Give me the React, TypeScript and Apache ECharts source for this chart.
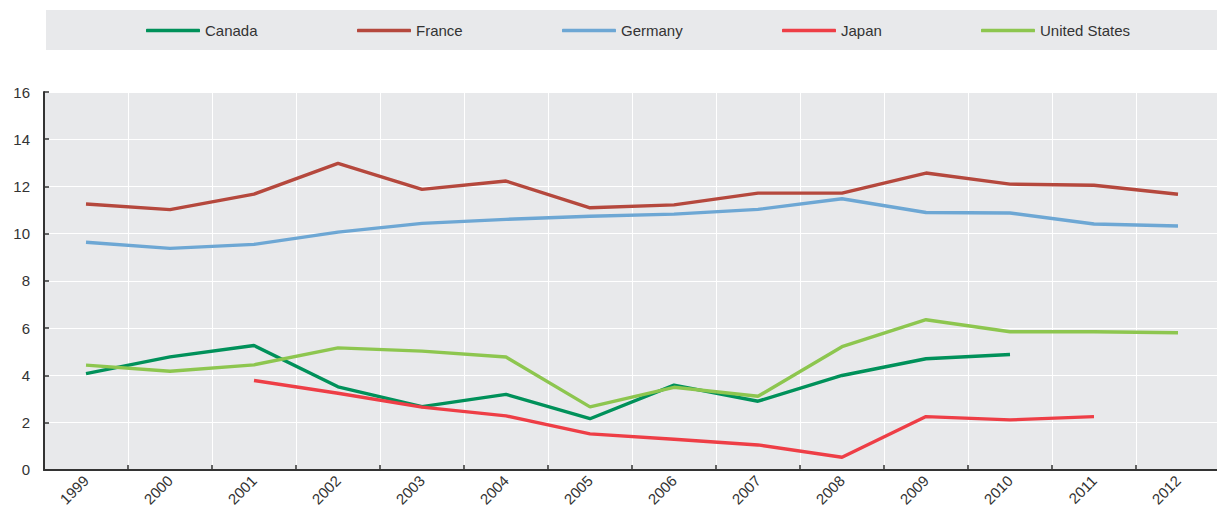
import React, { useEffect, useRef } from "react";
import * as echarts from "echarts";

const years = ["1999", "2000", "2001", "2002", "2003", "2004", "2005", "2006", "2007", "2008", "2009", "2010", "2011", "2012"];
const canada = [4.08, 4.79, 5.27, 3.52, 2.68, 3.2, 2.17, 3.59, 2.91, 4.0, 4.71, 4.89, null, null];
const france = [11.26, 11.02, 11.68, 12.98, 11.88, 12.23, 11.1, 11.22, 11.72, 11.72, 12.57, 12.1, 12.05, 11.67];
const germany = [9.64, 9.38, 9.55, 10.07, 10.44, 10.61, 10.74, 10.83, 11.03, 11.48, 10.9, 10.88, 10.41, 10.33];
const japan = [null, null, 3.79, 3.25, 2.66, 2.29, 1.53, 1.3, 1.06, 0.54, 2.26, 2.12, 2.26, null];
const unitedStates = [4.44, 4.18, 4.45, 5.17, 5.03, 4.78, 2.67, 3.5, 3.12, 5.22, 6.36, 5.85, 5.85, 5.81];

const seriesNames = ["Canada", "France", "Germany", "Japan", "United States"];
const seriesData = [canada, france, germany, japan, unitedStates];
const colors = ["#00915a", "#b5483d", "#6da7d4", "#ee3e46", "#8dc64f"];
const legendLefts = [146, 357, 562, 782, 981];

const FONT = "'Liberation Sans Narrow', 'Arial Narrow', 'Liberation Sans', Arial, sans-serif";

export default function App() {
  const ref = useRef<HTMLDivElement>(null);
  useEffect(() => {
    if (!ref.current) return;
    const chart = echarts.init(ref.current, undefined, { renderer: "svg" });
    chart.setOption({
      animation: false,
      backgroundColor: "#ffffff",
      textStyle: { fontFamily: FONT },
      graphic: [
        {
          type: "rect",
          z: -10,
          shape: { x: 46, y: 10, width: 1180, height: 40 },
          style: { fill: "#e8e9eb" },
          silent: true,
        },
      ],
      legend: seriesNames.map((n, i) => ({
        data: [n],
        left: legendLefts[i],
        top: 23,
        icon: "roundRect",
        itemWidth: 54,
        itemHeight: 3.5,
        itemGap: 4,
        textStyle: { fontFamily: FONT, fontSize: 15, color: "#333333" },
        selectedMode: false,
        padding: 0,
      })),
      grid: {
        left: 44,
        top: 92,
        width: 1176,
        height: 378,
        show: true,
        backgroundColor: "#e8e9eb",
        borderWidth: 0,
      },
      xAxis: {
        type: "category",
        data: years,
        boundaryGap: true,
        axisLine: { show: true, lineStyle: { color: "#333333", width: 2 } },
        axisTick: { show: true, inside: true, length: 5, lineStyle: { color: "#333333", width: 1.5 } },
        axisLabel: { rotate: 45, fontFamily: FONT, fontSize: 15, color: "#333333", margin: 8 },
        splitLine: { show: true, lineStyle: { color: "#ffffff", width: 1 } },
      },
      yAxis: {
        type: "value",
        min: 0,
        max: 16,
        interval: 2,
        axisLine: { show: true, lineStyle: { color: "#333333", width: 2 } },
        axisTick: { show: true, inside: true, length: 5, lineStyle: { color: "#333333", width: 1.5 } },
        axisLabel: { fontFamily: FONT, fontSize: 15, color: "#333333", margin: 14 },
        splitLine: { show: true, lineStyle: { color: "#ffffff", width: 1 } },
      },
      series: seriesNames.map((n, i) => ({
        name: n,
        type: "line",
        data: seriesData[i],
        showSymbol: false,
        symbol: "none",
        connectNulls: false,
        color: colors[i],
        lineStyle: { color: colors[i], width: 3.4 },
        itemStyle: { color: colors[i] },
      })),
    });
    return () => chart.dispose();
  }, []);
  return (
    <div
      ref={ref}
      style={{ position: "fixed", left: 0, top: 0, width: 1220, height: 509 }}
    />
  );
}
